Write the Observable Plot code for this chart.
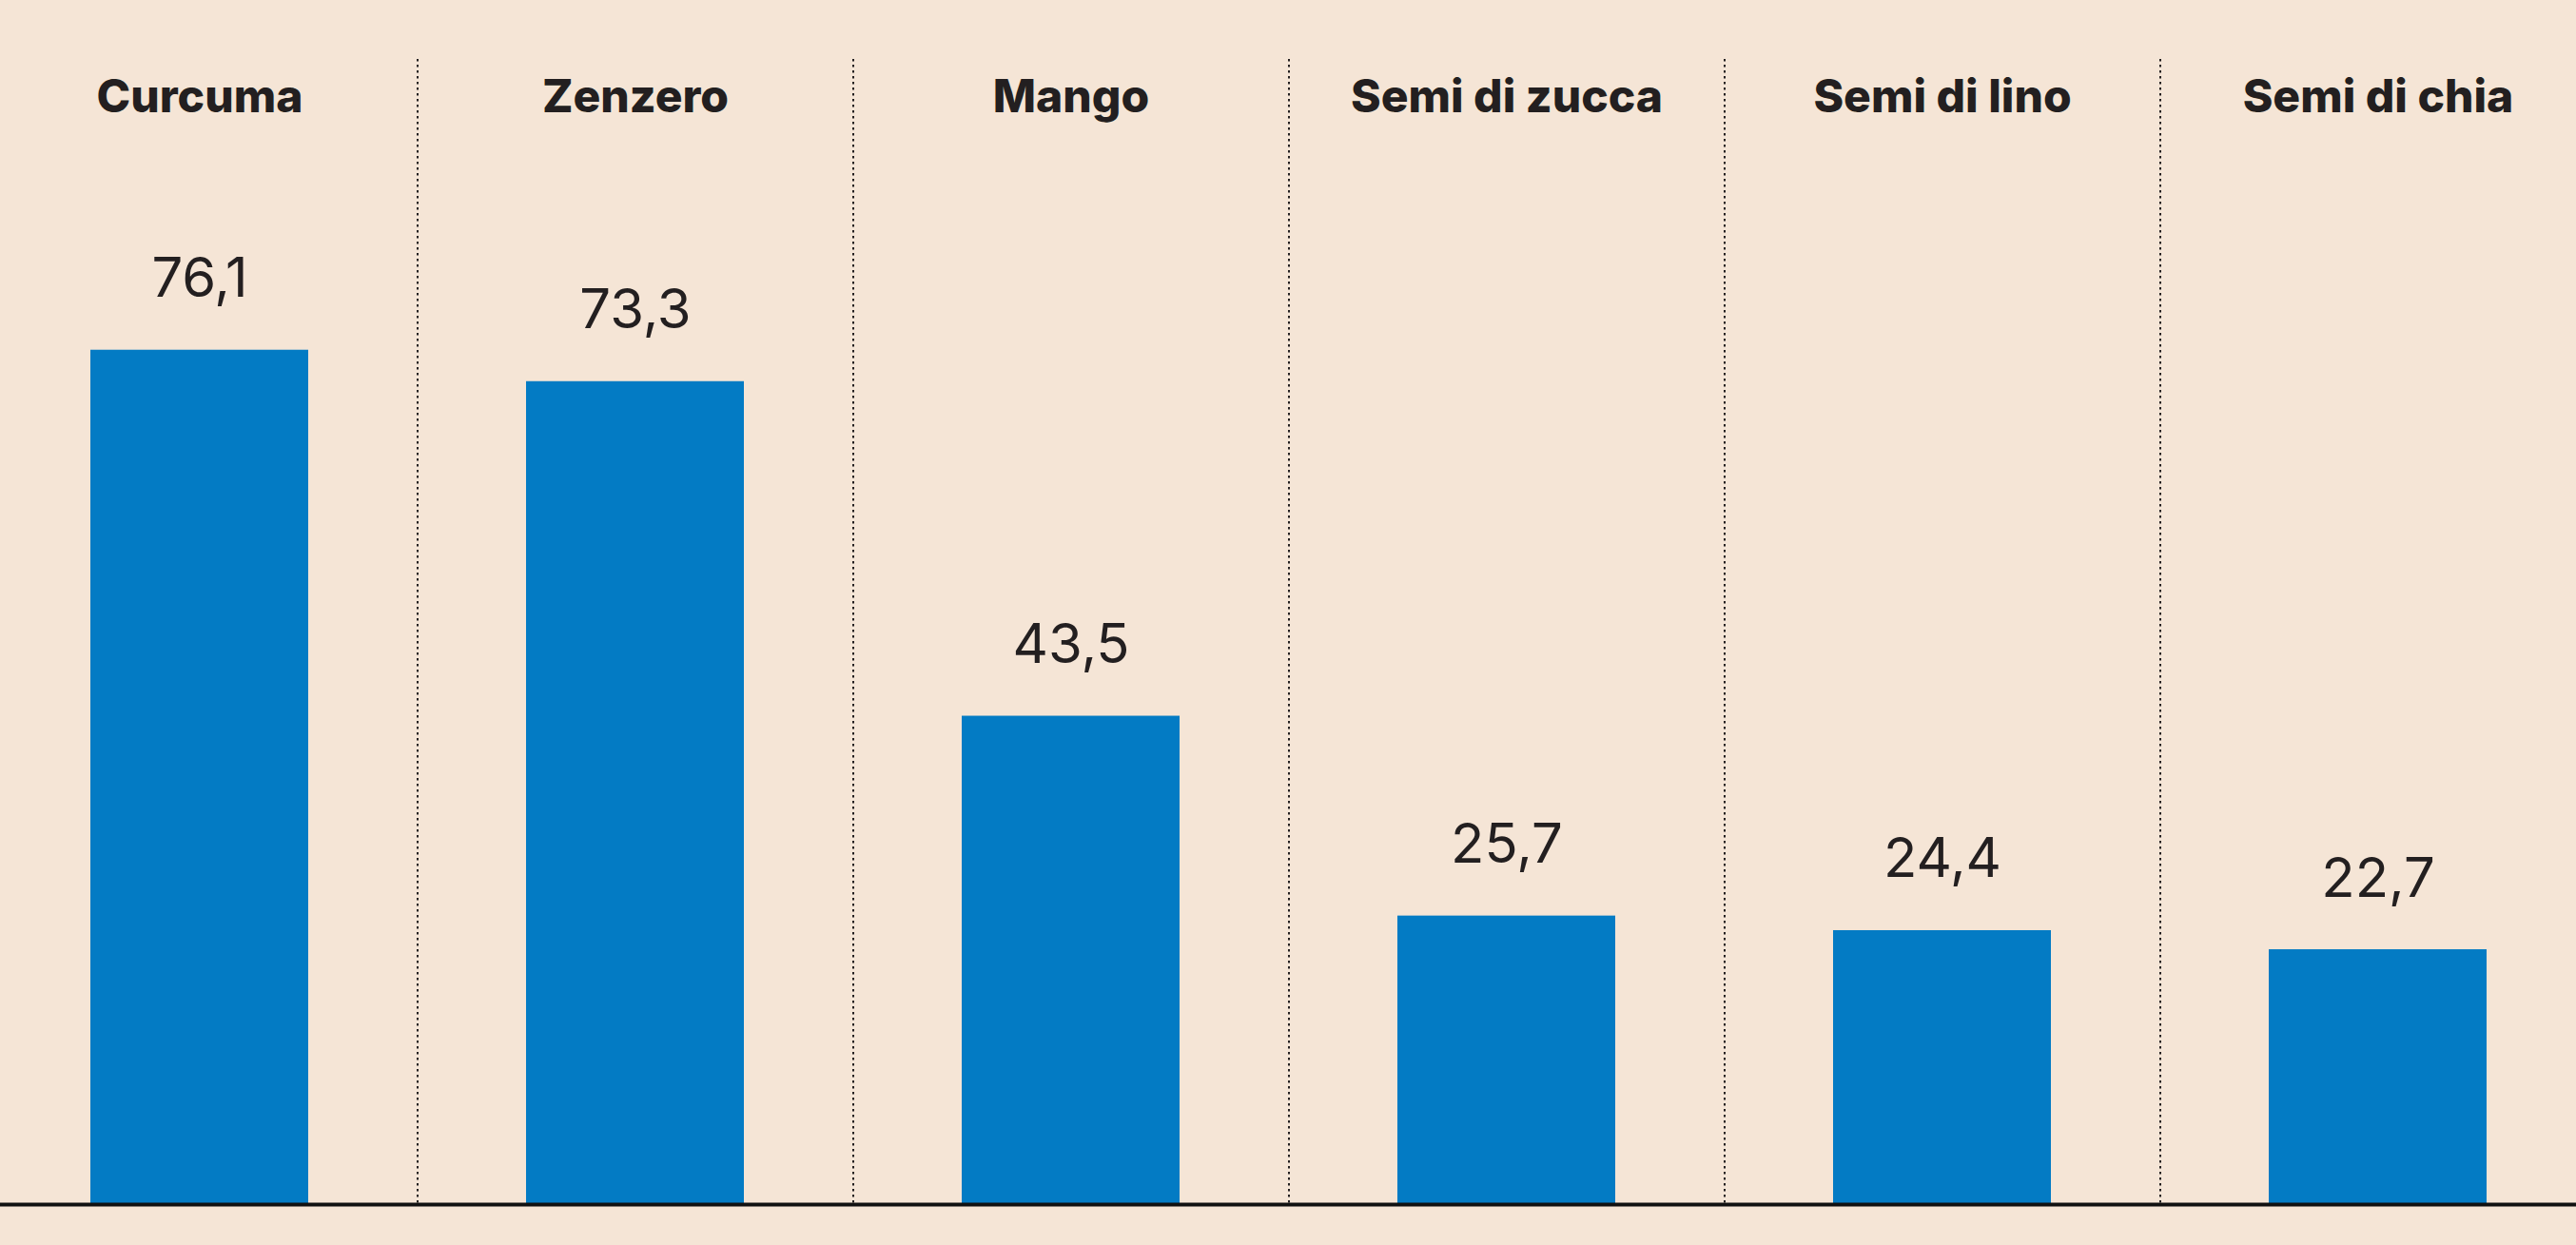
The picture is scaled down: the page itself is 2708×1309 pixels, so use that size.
<!DOCTYPE html>
<html>
<head>
<meta charset="utf-8">
<script src="https://cdn.jsdelivr.net/npm/d3@7"></script>
<script src="https://cdn.jsdelivr.net/npm/@observablehq/plot@0.6"></script>
<style>
  html, body { margin: 0; padding: 0; background: #F5E5D6; }
  #chart svg { display: block; }
</style>
</head>
<body>
<div id="chart"></div>
<script>
const categories = ["Curcuma", "Zenzero", "Mango", "Semi di zucca", "Semi di lino", "Semi di chia"];
const values = [76.1, 73.3, 43.5, 25.7, 24.4, 22.7];

const data = categories.map((name, i) => ({name, value: values[i]}));
const itFormat = d3.formatLocale({decimal: ",", thousands: ".", grouping: [3], currency: ["€", ""]}).format(".1f");

const W = 2708, H = 1309;
const xRange = [-20, 2728];
const paddingInner = 0.5, paddingOuter = 0.25;
const step = (xRange[1] - xRange[0]) / (categories.length - paddingInner + 2 * paddingOuter);

const ink = "#231F20";

const chart = Plot.plot({
  width: W,
  height: H,
  marginTop: 62,
  marginBottom: 43,
  marginLeft: 0,
  marginRight: 0,
  style: {background: "#F5E5D6", fontFamily: "Inter, Roboto, 'Noto Sans', sans-serif", color: ink},
  x: {domain: categories, range: xRange, paddingInner, paddingOuter, axis: null},
  y: {domain: [0, 102], axis: null},
  marks: [
    Plot.ruleX(categories.slice(1), {x: d => d, dx: -step / 2, stroke: ink, strokeWidth: 2, strokeDasharray: "2.5,3.5"}),
    Plot.barY(data, {x: "name", y: "value", fill: "#037BC4"}),
    Plot.ruleY([0], {stroke: "#111", strokeWidth: 4}),
    Plot.text(data, {x: "name", y: "value", text: d => itFormat(d.value), dy: -56, lineAnchor: "bottom", fontSize: 58, fill: ink}),
    Plot.text(data, {x: "name", frameAnchor: "top", text: "name", dy: 55, lineAnchor: "bottom", fontSize: 48, fontWeight: 800, fill: ink})
  ]
});
document.getElementById("chart").append(chart);
</script>
</body>
</html>
